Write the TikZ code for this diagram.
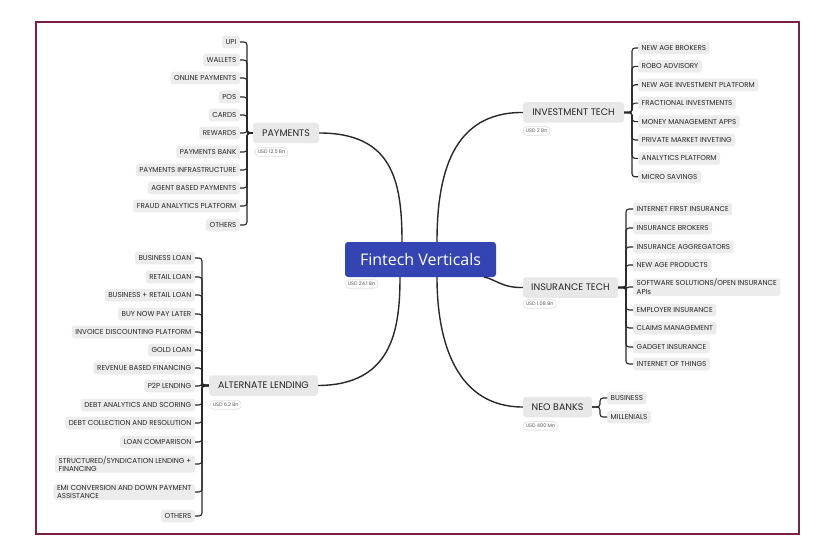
\documentclass[tikz,border=0pt]{standalone}
\usepackage{fontspec}
\setmainfont{Poppins}
\newfontfamily\hubfont{Open Sans}
\definecolor{frame}{RGB}{122,32,72}
\definecolor{hubblue}{RGB}{52,68,178}
\definecolor{leafgray}{RGB}{236,236,236}
\definecolor{branchgray}{RGB}{232,232,232}
\definecolor{leaftext}{RGB}{40,40,40}
\definecolor{usdline}{RGB}{222,222,222}
\definecolor{conn}{RGB}{40,40,40}
\tikzset{
  leaf/.style={fill=leafgray, rounded corners=2.5pt, text=leaftext,
    font=\fontsize{7.15}{8.7}\selectfont, inner xsep=3.5pt, inner ysep=1pt, minimum height=12.5pt},
  leafL/.style={leaf, anchor=east},
  leafR/.style={leaf, anchor=west},
  branch/.style={fill=branchgray, rounded corners=3pt, text=black!85,
    font=\fontsize{9.5}{11}\selectfont, inner xsep=2pt, minimum height=20.5pt},
  usd/.style={draw=usdline, line width=0.6pt, fill=white, rounded corners=3.5pt,
    text=black!65, font=\fontsize{5}{6}\selectfont, inner xsep=2.5pt, inner ysep=0pt,
    minimum height=8.5pt, anchor=west},
  sub/.style={draw=conn, line width=1.1pt, rounded corners=3pt},
  main/.style={draw=conn, line width=1.4pt}
}
\begin{document}
\begin{tikzpicture}[x=1pt,y=-1pt]
\useasboundingbox (0,0) rectangle (840,548);
\fill[white] (0,0) rectangle (840,548);
\draw[frame, line width=2.2pt] (36,22) rectangle (799,534);

% hub
\node[fill=hubblue, rounded corners=3pt, text=white, minimum width=151pt, minimum height=35pt,
  font=\hubfont\fontsize{16}{18}\selectfont] (hub) at (420.5,259.5) {Fintech Verticals};
\node[usd] (hubusd) at (345,284) {USD 24.1 Bn};

% branches
\node[branch, minimum width=66pt] (pay) at (286,133) {PAYMENTS};
\node[usd] (payusd) at (255,152) {USD 12.5 Bn};
\node[branch, minimum width=101pt] (inv) at (573.5,112.5) {INVESTMENT TECH};
\node[usd] (invusd) at (523,131) {USD 2 Bn};
\node[branch, minimum width=95pt] (ins) at (570.5,287.5) {INSURANCE TECH};
\node[usd] (insusd) at (523,304) {USD 1.08 Bn};
\node[branch, minimum width=69pt] (neo) at (557.5,407) {NEO BANKS};
\node[usd] (neousd) at (523,426) {USD 400 Mn};
\node[branch, minimum width=109pt] (alt) at (263.5,385.5) {ALTERNATE LENDING};
\node[usd] (altusd) at (210,405) {USD 6.2 Bn};

% main connectors
\draw[main] (pay.east) .. controls (392,133) and (402,180) .. (hub.north -| 402,0);
\draw[main] (inv.west) .. controls (452,112) and (437,175) .. (hub.north -| 437,0);
\draw[main] (alt.east) .. controls (392,385) and (400,330) .. (hub.south -| 400,0);
\draw[main] (neo.west) .. controls (458,407) and (437,345) .. (hub.south -| 437,0);
\draw[main] (ins.west) .. controls (502,288) and (495,279) .. (484,277);

% payments leaves
\coordinate (payS) at (247,0);
\node[leafL] (p1) at (240,42) {UPI};
\node[leafL] (p2) at (240,60) {WALLETS};
\node[leafL] (p3) at (240,78) {ONLINE PAYMENTS};
\node[leafL] (p4) at (240,97) {POS};
\node[leafL] (p5) at (240,115) {CARDS};
\node[leafL] (p6) at (240,133) {REWARDS};
\node[leafL] (p7) at (240,152) {PAYMENTS BANK};
\node[leafL] (p8) at (240,170) {PAYMENTS INFRASTRUCTURE};
\node[leafL] (p9) at (240,188) {AGENT BASED PAYMENTS};
\node[leafL] (p10) at (240,206) {FRAUD ANALYTICS PLATFORM};
\node[leafL] (p11) at (240,225) {OTHERS};
\foreach \i in {1,...,11} \draw[sub] (pay.west) -- (pay.west -| payS) |- (p\i.east);

% investment leaves
\coordinate (invS) at (632,0);
\node[leafR] (i1) at (638,48) {NEW AGE BROKERS};
\node[leafR] (i2) at (638,66.4) {ROBO ADVISORY};
\node[leafR] (i3) at (638,84.8) {NEW AGE INVESTMENT PLATFORM};
\node[leafR] (i4) at (638,103.2) {FRACTIONAL INVESTMENTS};
\node[leafR] (i5) at (638,121.6) {MONEY MANAGEMENT APPS};
\node[leafR] (i6) at (638,140) {PRIVATE MARKET INVETING};
\node[leafR] (i7) at (638,158.4) {ANALYTICS PLATFORM};
\node[leafR] (i8) at (638,176.8) {MICRO SAVINGS};
\foreach \i in {1,...,8} \draw[sub] (inv.east) -- (inv.east -| invS) |- (i\i.west);

% insurance leaves
\coordinate (insS) at (626,0);
\node[leafR] (n1) at (633,209) {INTERNET FIRST INSURANCE};
\node[leafR] (n2) at (633,228) {INSURANCE BROKERS};
\node[leafR] (n3) at (633,247) {INSURANCE AGGREGATORS};
\node[leafR] (n4) at (633,265) {NEW AGE PRODUCTS};
\node[leafR, align=left] (n5) at (633,287) {SOFTWARE SOLUTIONS/OPEN INSURANCE\\APIs};
\node[leafR] (n6) at (633,310) {EMPLOYER INSURANCE};
\node[leafR] (n7) at (633,328) {CLAIMS MANAGEMENT};
\node[leafR] (n8) at (633,347) {GADGET INSURANCE};
\node[leafR] (n9) at (633,364) {INTERNET OF THINGS};
\foreach \i in {1,...,9} \draw[sub] (ins.east) -- (ins.east -| insS) |- (n\i.west);

% neo bank leaves
\coordinate (neoS) at (600,0);
\node[leafR] (b1) at (607,398) {BUSINESS};
\node[leafR] (b2) at (607,417) {MILLENIALS};
\foreach \i in {1,2} \draw[sub] (neo.east) -- (neo.east -| neoS) |- (b\i.west);

% alternate lending leaves
\coordinate (altS) at (202,0);
\node[leafL] (a1) at (195,258) {BUSINESS LOAN};
\node[leafL] (a2) at (195,277) {RETAIL LOAN};
\node[leafL] (a3) at (195,295) {BUSINESS + RETAIL LOAN};
\node[leafL] (a4) at (195,314) {BUY NOW PAY LATER};
\node[leafL] (a5) at (195,332) {INVOICE DISCOUNTING PLATFORM};
\node[leafL] (a6) at (195,350) {GOLD LOAN};
\node[leafL] (a7) at (195,368) {REVENUE BASED FINANCING};
\node[leafL] (a8) at (195,386) {P2P LENDING};
\node[leafL] (a9) at (195,405) {DEBT ANALYTICS AND SCORING};
\node[leafL] (a10) at (195,423) {DEBT COLLECTION AND RESOLUTION};
\node[leafL] (a11) at (195,442) {LOAN COMPARISON};
\node[leafL, align=left] (a12) at (195,464) {STRUCTURED/SYNDICATION LENDING +\\FINANCING};
\node[leafL, align=left] (a13) at (195,492) {EMI CONVERSION AND DOWN PAYMENT\\ASSISTANCE};
\node[leafL] (a14) at (195,516) {OTHERS};
\foreach \i in {1,...,14} \draw[sub] (alt.west) -- (alt.west -| altS) |- (a\i.east);
\end{tikzpicture}
\end{document}
